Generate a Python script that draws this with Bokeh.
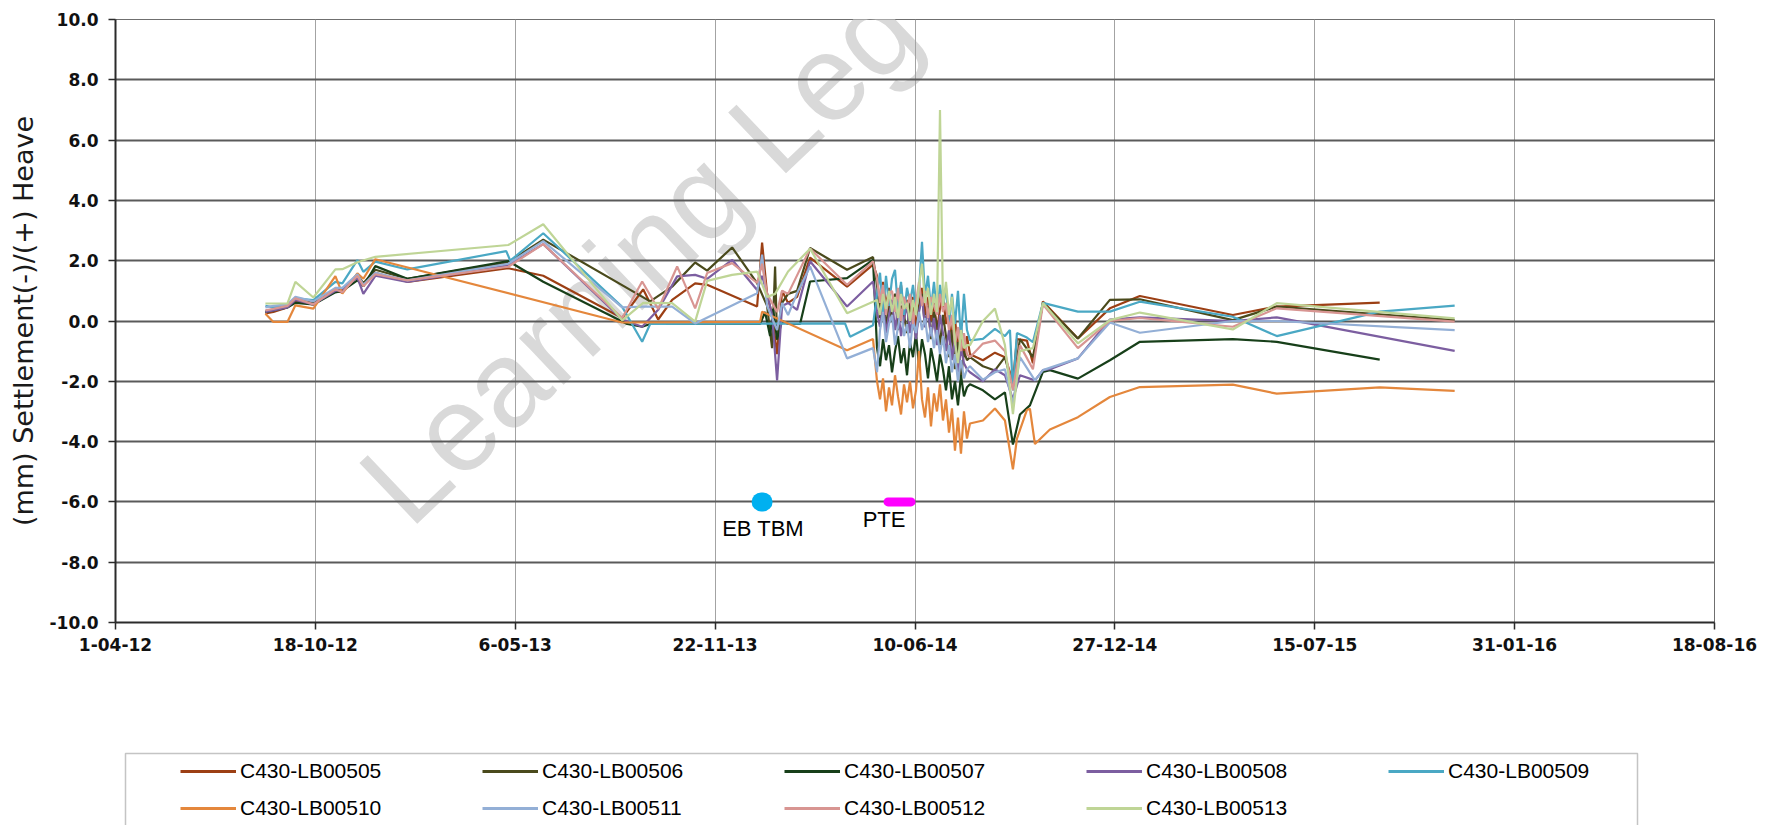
from datetime import datetime, timedelta

from bokeh.embed import file_html
from bokeh.layouts import column
from bokeh.models import (BoxAnnotation, FixedTicker, Label, Legend, LegendItem,
                          PrintfTickFormatter, Range1d)
from bokeh.plotting import figure
from bokeh.resources import INLINE

# ---------------------------------------------------------------- data
START = datetime(2012, 4, 1)          # day 0 of the x axis
X_END_DAY = 1600
X_TICK_DAYS = [0, 200, 400, 600, 800, 1000, 1200, 1400, 1600]
X_TICK_LABELS = ["1-04-12", "18-10-12", "6-05-13", "22-11-13", "10-06-14",
                 "27-12-14", "15-07-15", "31-01-16", "18-08-16"]
Y_TICKS = [-10, -8, -6, -4, -2, 0, 2, 4, 6, 8, 10]

SERIES = ["C430-LB00505", "C430-LB00506", "C430-LB00507", "C430-LB00508",
          "C430-LB00509", "C430-LB00510", "C430-LB00511", "C430-LB00512",
          "C430-LB00513"]
COLORS = ["#9c3f14", "#4a4a1c", "#173f19", "#7c5ea0", "#4aa8c4",
          "#e4873c", "#93afd6", "#d89592", "#bfd596"]

# dense monitoring period (days since START)
DENSE_DAYS = [762, 765, 768, 771, 774, 777, 780, 783, 786, 789, 792, 795, 798,
              801, 804, 807, 810, 813, 816, 819, 822, 825, 828, 831, 834, 837,
              840, 843, 846, 849, 852]

# C430-LB00505
PRE_D_505 = [150, 158, 172, 180, 198, 220, 227, 242, 248, 260, 292, 393, 428, 507,
             528, 543, 557, 580, 592, 642, 647, 652, 657, 662, 667, 673, 682, 695, 732, 758]
PRE_V_505 = [0.25, 0.3, 0.45, 0.65, 0.55, 1.0, 0.95, 1.5, 1.2, 1.6, 1.3, 1.75, 1.5, 0.1,
             1.05, 0.05, 0.7, 1.25, 1.2, 0.48, 2.6, 0.9, 0.2, -1.1, 1.0, 0.6, 0.8, 2.1, 1.14, 1.87]
DENSE_V_505 = [1.5, 0.4, 1.3, 0.5, 1.1, 0.2, 0.9, 0.6, 1.2, 0.1, 0.7, 0.3, 0.8, -0.2, 0.5,
               1.1, 0.2, 0.8, 0.0, 0.6, -0.3, 0.4, 0.9, -0.1, 0.3, -0.6, 0.1, -1.0, -0.2, -1.2, -0.5]
POST_D_505 = [855, 868, 880, 890, 898, 902, 912, 918, 928, 963, 995, 1025, 1118, 1162, 1265]
POST_V_505 = [-1.1, -1.3, -1.05, -1.2, -2.0, -0.6, -0.65, -1.4, 0.65, -0.58, 0.42, 0.83, 0.2, 0.48, 0.61]

# C430-LB00506
PRE_D_506 = [150, 158, 172, 180, 198, 220, 227, 242, 248, 260, 292, 393, 428, 535, 557,
             580, 592, 617, 642, 652, 657, 660, 662, 667, 673, 682, 695, 732, 758]
PRE_V_506 = [0.3, 0.35, 0.5, 0.7, 0.6, 1.05, 1.0, 1.55, 1.25, 1.7, 1.4, 1.95, 2.7, 0.65, 1.14,
             1.94, 1.67, 2.44, 1.26, 0.5, -0.9, 1.81, -0.63, 0.6, 0.9, 1.0, 2.42, 1.7, 2.12]
DENSE_V_506 = [1.2, 0.1, 0.8, -0.2, 0.6, 0.0, 0.9, -0.3, 0.5, 0.2, -0.4, 0.7, 0.0, -0.5, 0.4,
               0.9, -0.2, 0.5, -0.6, 0.3, -0.1, -0.8, 0.2, -0.5, -1.2, -0.3, -1.6, -0.7, -1.9, -1.0, -1.3]
POST_D_506 = [855, 868, 880, 890, 898, 905, 918, 928, 963, 995, 1025, 1118, 1162, 1340]
POST_V_506 = [-1.2, -1.5, -1.64, -1.2, -2.2, -0.6, -1.2, 0.6, -0.58, 0.7, 0.72, 0.03, 0.48, 0.03]

# C430-LB00507
PRE_D_507 = [150, 158, 172, 180, 198, 220, 227, 242, 248, 260, 292, 393, 428, 512, 527,
             535, 645, 650, 655, 658, 662, 667, 673, 685, 695, 732, 758]
PRE_V_507 = [0.3, 0.35, 0.45, 0.6, 0.55, 0.95, 1.0, 1.35, 1.15, 1.82, 1.4, 1.99, 1.3, -0.1, -0.19,
             -0.1, -0.1, 0.3, -0.5, 0.4, -0.6, 0.0, -0.1, -0.1, 1.31, 1.42, 2.03]
DENSE_V_507 = [-0.9, -1.5, -0.6, -1.3, -0.8, -1.7, -1.0, -0.5, -1.4, -0.9, -1.8, -0.7, -1.2, -0.4,
               -1.5, -0.6, -1.1, -1.9, -0.9, -1.4, -2.0, -1.1, -1.6, -2.3, -1.5, -2.6, -2.0, -2.8,
               -1.8, -2.5, -2.2]
POST_D_507 = [855, 868, 880, 890, 898, 905, 915, 928, 935, 963, 995, 1025, 1118, 1162, 1265]
POST_V_507 = [-2.1, -2.3, -2.6, -2.37, -4.1, -3.1, -2.8, -1.69, -1.63, -1.91, -1.3, -0.69, -0.6, -0.69, -1.28]

# C430-LB00508
PRE_D_508 = [150, 158, 172, 180, 198, 220, 227, 242, 248, 260, 292, 393, 428, 507, 527, 543,
             562, 580, 592, 617, 642, 647, 652, 657, 662, 667, 673, 682, 695, 732, 758]
PRE_V_508 = [0.3, 0.35, 0.45, 0.7, 0.55, 1.0, 1.05, 1.45, 0.9, 1.5, 1.3, 1.85, 2.55, 0.05, -0.19, 0.37,
             1.48, 1.53, 1.4, 2.03, 1.03, 1.5, 0.9, 0.2, -1.97, 0.5, 0.6, 0.37, 1.98, 0.48, 1.31]
DENSE_V_508 = [0.3, -0.2, 0.6, -0.4, 0.2, 0.7, -0.3, 0.4, -0.5, 0.1, 0.5, -0.4, 0.2, -0.6, 0.3,
               0.8, -0.2, 0.4, -0.5, 0.1, -0.8, 0.2, -0.4, -1.0, -0.3, -1.3, -0.6, -1.7, -0.9, -1.4, -1.6]
POST_D_508 = [855, 868, 880, 890, 898, 905, 920, 928, 935, 963, 995, 1025, 1118, 1162, 1340]
POST_V_508 = [-1.7, -2.0, -1.6, -1.8, -2.6, -1.8, -1.97, -1.63, -1.6, -1.24, 0.05, 0.12, 0.0, 0.12, -0.99]

# C430-LB00509
PRE_D_509 = [150, 158, 172, 180, 198, 220, 227, 242, 248, 260, 292, 391, 395, 428, 507, 527,
             535, 730, 735, 758]
PRE_V_509 = [0.5, 0.45, 0.55, 0.75, 0.69, 1.3, 1.25, 2.02, 1.63, 1.97, 1.71, 2.32, 2.0, 2.91, 0.47, -0.69,
             -0.1, -0.08, -0.52, -0.14]
DENSE_V_509 = [0.9, 1.6, 0.3, 1.5, 0.5, 1.4, 1.7, 0.4, 1.3, 0.2, 1.1, 0.6, 1.2, 0.3, 1.0,
               2.63, 0.8, 1.5, 0.4, 1.3, 0.2, 1.2, 0.5, 1.1, -0.2, 0.9, -0.1, 1.0, -0.6, 0.9, -0.3]
POST_D_509 = [855, 868, 880, 890, 895, 898, 902, 912, 918, 928, 963, 995, 1025, 1118, 1162, 1265, 1340]
POST_V_509 = [-0.64, -0.59, -0.26, -0.5, -0.3, -2.3, -0.4, -0.55, -0.7, 0.6, 0.31, 0.31, 0.64, 0.14,
              -0.5, 0.31, 0.51]

# C430-LB00510
PRE_D_510 = [150, 158, 172, 180, 198, 220, 227, 242, 248, 260, 507, 645, 647, 732, 758]
PRE_V_510 = [0.24, -0.03, -0.03, 0.52, 0.41, 1.49, 0.91, 1.58, 1.4, 2.05, -0.05, -0.03, 0.31, -0.97, -0.6]
DENSE_V_510 = [-2.0, -2.6, -1.9, -3.0, -2.2, -2.8, -1.8, -2.5, -3.1, -2.1, -2.7, -2.0, -2.9, -2.3, -1.0,
               -2.6, -3.2, -2.2, -3.5, -2.4, -3.0, -2.1, -3.3, -2.6, -3.7, -2.9, -4.3, -3.2, -4.4, -3.0, -3.9]
POST_D_510 = [855, 868, 880, 890, 898, 902, 912, 915, 920, 935, 963, 995, 1025, 1118, 1162, 1265, 1340]
POST_V_510 = [-3.4, -3.3, -2.9, -3.3, -4.92, -3.9, -2.95, -2.91, -4.08, -3.6, -3.19, -2.52, -2.19,
              -2.11, -2.41, -2.2, -2.32]

# C430-LB00511
PRE_D_511 = [150, 158, 172, 180, 198, 220, 227, 242, 248, 260, 292, 393, 428, 507, 527, 557,
             580, 642, 647, 652, 662, 667, 673, 682, 695, 732, 758]
PRE_V_511 = [0.45, 0.5, 0.55, 0.8, 0.65, 1.1, 1.1, 1.55, 1.2, 1.6, 1.35, 1.9, 2.65, 0.45, 0.48, 0.48,
             -0.08, 0.92, 2.2, 0.5, -0.3, 0.6, 0.2, 0.92, 1.81, -1.24, -0.9]
DENSE_V_511 = [-1.7, -0.3, 0.3, -0.7, -0.1, 0.2, -0.8, -0.2, 0.4, -0.5, -0.1, -0.9, 0.0, -0.4, 0.3,
               -0.3, 0.1, -0.7, -0.2, -0.9, -0.3, -1.1, -0.5, -1.4, -0.8, -1.7, -1.1, -2.0, -1.3, -1.9, -1.6]
POST_D_511 = [855, 868, 880, 890, 898, 905, 920, 928, 963, 995, 1025, 1118, 1162, 1340]
POST_V_511 = [-1.5, -1.95, -1.7, -1.6, -2.76, -1.2, -1.97, -1.63, -1.24, -0.05, -0.39, 0.0, 0.0, -0.3]

# C430-LB00512
PRE_D_512 = [150, 158, 172, 180, 198, 220, 227, 242, 248, 260, 292, 393, 428, 507, 527, 543,
             562, 580, 592, 617, 642, 647, 652, 662, 667, 673, 695, 732, 758]
PRE_V_512 = [0.35, 0.4, 0.5, 0.75, 0.55, 1.05, 0.95, 1.5, 1.15, 1.55, 1.35, 1.8, 2.55, 0.1, 1.31, 0.4,
             1.81, 0.42, 1.59, 1.92, 1.26, 1.9, 0.9, 0.3, 1.0, 0.9, 2.4, 1.2, 1.98]
DENSE_V_512 = [1.4, 0.6, 1.2, 0.2, 0.9, 1.0, 0.3, 1.1, 0.0, 0.8, 0.4, 0.9, -0.1, 0.6, 1.3,
               0.5, 1.0, 0.1, 0.8, 0.5, 0.2, 0.9, 0.3, 0.6, -0.3, 0.2, -0.8, -0.2, -1.0, -0.4, -1.1]
POST_D_512 = [855, 868, 880, 890, 898, 905, 918, 928, 963, 995, 1025, 1118, 1162, 1340]
POST_V_512 = [-1.2, -0.75, -0.65, -1.0, -2.3, -0.8, -1.6, 0.55, -0.9, 0.0, 0.1, -0.19, 0.42, -0.02]

# C430-LB00513
PRE_D_513 = [150, 158, 172, 180, 198, 220, 227, 242, 260, 393, 428, 507, 528, 557, 580, 592,
             617, 642, 652, 660, 673, 695, 732, 758]
PRE_V_513 = [0.58, 0.58, 0.58, 1.3, 0.78, 1.71, 1.72, 1.95, 2.13, 2.52, 3.21, 0.02, 0.6, 0.59, -0.02, 1.33,
             1.53, 1.64, 0.8, 0.9, 1.64, 2.4, 0.26, 0.64]
DENSE_V_513 = [0.7, 0.2, 0.9, 0.4, 1.0, 0.3, 0.8, 0.1, 0.9, 0.4, 0.6, 0.0, 0.7, 0.2, 1.2,
               1.9, 0.6, 1.1, 0.2, 0.9, 0.3, 7.0, 0.5, 1.3, 0.2, 0.8, -0.7, -1.4, -0.3, -0.9, -0.8]
POST_D_513 = [855, 868, 880, 890, 898, 905, 918, 928, 963, 995, 1025, 1118, 1162, 1340]
POST_V_513 = [-0.8, 0.0, 0.41, -0.8, -3.09, -1.0, -0.9, 0.6, -0.74, 0.03, 0.28, -0.28, 0.59, 0.09]

# event markers
EB_TBM_DAYS = [646, 648]
EB_TBM_Y = [-6, -6]
PTE_DAYS = [773, 796]
PTE_Y = [-6, -6]
Y_LABEL = "(mm) Settlement(-)/(+) Heave"
WATERMARK = "Learning Leg"

# ---------------------------------------------------------------- helpers
EPOCH = datetime(1970, 1, 1)


def to_dt(days):
    return [START + timedelta(days=d) for d in days]


def to_ms(day):
    return (START + timedelta(days=day) - EPOCH).total_seconds() * 1000.0


series_days = [
    PRE_D_505 + DENSE_DAYS + POST_D_505, PRE_D_506 + DENSE_DAYS + POST_D_506,
    PRE_D_507 + DENSE_DAYS + POST_D_507, PRE_D_508 + DENSE_DAYS + POST_D_508,
    PRE_D_509 + DENSE_DAYS + POST_D_509, PRE_D_510 + DENSE_DAYS + POST_D_510,
    PRE_D_511 + DENSE_DAYS + POST_D_511, PRE_D_512 + DENSE_DAYS + POST_D_512,
    PRE_D_513 + DENSE_DAYS + POST_D_513,
]
series_vals = [
    PRE_V_505 + DENSE_V_505 + POST_V_505, PRE_V_506 + DENSE_V_506 + POST_V_506,
    PRE_V_507 + DENSE_V_507 + POST_V_507, PRE_V_508 + DENSE_V_508 + POST_V_508,
    PRE_V_509 + DENSE_V_509 + POST_V_509, PRE_V_510 + DENSE_V_510 + POST_V_510,
    PRE_V_511 + DENSE_V_511 + POST_V_511, PRE_V_512 + DENSE_V_512 + POST_V_512,
    PRE_V_513 + DENSE_V_513 + POST_V_513,
]

LINE_W = 2.2

# ---------------------------------------------------------------- main chart
p = figure(width=1768, height=745, x_axis_type="datetime",
           x_range=Range1d(to_ms(0), to_ms(X_END_DAY)), y_range=Range1d(-10, 10),
           output_backend="svg", toolbar_location=None,
           min_border_left=115, min_border_right=54, min_border_top=19,
           min_border_bottom=123)
p.title.visible = False
p.background_fill_color = "white"
p.border_fill_color = "white"
p.outline_line_color = "#6f6f6f"
p.outline_line_width = 1

x_ticks = [to_ms(d) for d in X_TICK_DAYS]
p.xaxis.ticker = FixedTicker(ticks=x_ticks)
p.xgrid.ticker = FixedTicker(ticks=x_ticks)
p.xaxis.major_label_overrides = {int(round(t)): lab for t, lab in zip(x_ticks, X_TICK_LABELS)}
p.yaxis.ticker = FixedTicker(ticks=Y_TICKS)
p.ygrid.ticker = FixedTicker(ticks=Y_TICKS)
p.yaxis.formatter = PrintfTickFormatter(format="%.1f")

for ax in (p.xaxis[0], p.yaxis[0]):
    ax.axis_line_color = "#2b2b2b"
    ax.axis_line_width = 2
    ax.major_tick_line_color = "#2b2b2b"
    ax.major_tick_line_width = 1.5
    ax.major_tick_in = 0
    ax.major_tick_out = 7
    ax.minor_tick_line_color = None
    ax.major_label_text_font = "DejaVu Sans"
    ax.major_label_text_font_style = "bold"
    ax.major_label_text_font_size = "17px"
    ax.major_label_text_color = "#111111"
p.xaxis.major_label_standoff = 8
p.yaxis.major_label_standoff = 10
p.yaxis.axis_label = Y_LABEL
p.yaxis.axis_label_text_font = "DejaVu Sans"
p.yaxis.axis_label_text_font_style = "normal"
p.yaxis.axis_label_text_font_size = "27px"
p.yaxis.axis_label_text_color = "#1a1a1a"
p.yaxis.axis_label_standoff = 8

p.ygrid.grid_line_color = "#5a5a5a"
p.ygrid.grid_line_width = 2
p.xgrid.grid_line_color = "#a3a3a3"
p.xgrid.grid_line_width = 1

# watermark (behind everything)
p.add_layout(Label(x=to_ms(524), y=2.19, text=WATERMARK, angle=0.76,
                   text_align="center", text_baseline="middle",
                   text_font="Liberation Sans", text_font_size="122px",
                   text_color="#d9d9d9", level="image"))

for days, vals, color in zip(series_days, series_vals, COLORS):
    p.line(x=to_dt(days), y=vals, line_color=color, line_width=LINE_W)

p.line(x=to_dt(EB_TBM_DAYS), y=EB_TBM_Y, line_color="#00b0f0", line_width=19, line_cap="round")
p.line(x=to_dt(PTE_DAYS), y=PTE_Y, line_color="#ff00ff", line_width=9, line_cap="round")

p.add_layout(Label(x=to_ms(648), y=-6.87, text="EB TBM", text_align="center",
                   text_baseline="middle", text_font="Liberation Sans",
                   text_font_size="22px", text_color="black"))
p.add_layout(Label(x=to_ms(769), y=-6.6, text="PTE", text_align="center",
                   text_baseline="middle", text_font="Liberation Sans",
                   text_font_size="22px", text_color="black"))

# ---------------------------------------------------------------- legend strip
# the strip's frame is aligned with the chart's frame (page x 115 .. 1714),
# so its x range is expressed in page pixels
LEG_H = 80
FRAME_LEFT, FRAME_RIGHT = 115, 1714
q = figure(width=1768, height=LEG_H, x_range=Range1d(FRAME_LEFT, FRAME_RIGHT),
           y_range=Range1d(LEG_H, 0),
           output_backend="svg", toolbar_location=None,
           x_axis_location=None, y_axis_location=None,
           min_border_left=115, min_border_right=54, min_border_top=0, min_border_bottom=0)
q.title.visible = False
q.grid.visible = False
q.outline_line_color = None
q.background_fill_color = "white"
q.border_fill_color = "white"

# legend frame (its lower edge runs past the bottom of the page, as in the original)
q.add_layout(BoxAnnotation(left=125, right=1637, top=8, bottom=LEG_H + 40,
                           fill_alpha=0, line_color="#3a3a3a", line_width=1.5))

# single-point proxies: they carry the line style for the legend but draw nothing
proxies = [q.line(x=[FRAME_LEFT], y=[LEG_H], line_color=c, line_width=LINE_W + 0.8)
           for c in COLORS]
legend = Legend(items=[LegendItem(label=n, renderers=[r]) for n, r in zip(SERIES, proxies)],
                orientation="horizontal", ncols=5, location=(180 - FRAME_LEFT, 0),
                border_line_alpha=0, background_fill_alpha=0,
                glyph_width=56, glyph_height=20, label_width=240, label_height=35,
                label_standoff=4, spacing=2, margin=0, padding=0,
                label_text_font="Liberation Sans", label_text_font_size="21px",
                label_text_color="black")
q.add_layout(legend)

layout = column(p, q, spacing=0)
open("out.html", "w").write(file_html(layout, INLINE))
